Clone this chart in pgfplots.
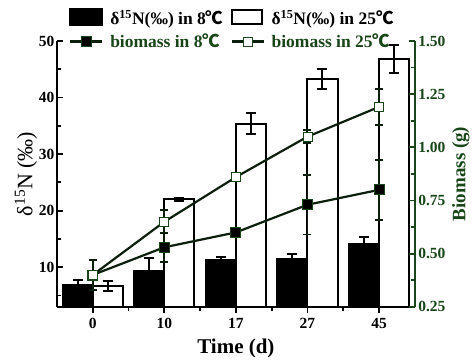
\documentclass[border=0pt]{standalone}
\usepackage{pgfplots}
\pgfplotsset{compat=1.18}
\usepackage{fontspec}
\setmainfont{Liberation Serif}
\newfontfamily\cjk{Noto Sans CJK SC}
\newcommand{\degC}{{\cjk ℃}}
\definecolor{dg}{RGB}{25,70,25}
\definecolor{dl}{RGB}{12,30,12}
\newcommand{\tk}{\fontsize{15.5}{15.5}\selectfont\bfseries}

\pgfplotstableread{
x y e
0 6.9 0.9
1 9.4 2.3
2 11.2 0.6
3 11.5 0.9
4 14.1 1.3
}\blackbars
\pgfplotstableread{
x y e
0 6.7 0.9
1 22.0 0.2
2 35.4 1.9
3 43.3 1.8
4 46.8 2.5
}\whitebars
\pgfplotstableread{
x y e
0 0.40 0.07
1 0.53 0.07
2 0.60 0.02
3 0.73 0.14
4 0.80 0.14
}\bioeight
\pgfplotstableread{
x y e
0 0.40 0.07
1 0.65 0.055
2 0.86 0.02
3 1.05 0.03
4 1.19 0.085
}\biotwentyfive

\begin{document}
\begin{tikzpicture}
\pgfplotsset{
  base/.style={scale only axis, width=358pt, height=266pt, xmin=-0.5, xmax=4.5,
    /pgf/number format/assume math mode=true,
    axis line style={-, line width=2pt}, tick label style={font=\tk},
    major tick length=6pt, minor tick length=4pt,
    every tick/.style={line width=1.8pt}},
}
% left axis with bars
\begin{axis}[base, ymin=3, ymax=50,
  ybar=0pt, bar width=0.42,
  axis x line=none, axis y line*=left, tick align=inside,
  ytick={10,20,30,40,50}, minor ytick={5,15,25,35,45},
  ylabel={δ\textsuperscript{15}N (‰)},
  ylabel style={font=\fontsize{22}{22}\selectfont, yshift=-5pt},
  yticklabel style={xshift=1pt}]
\addplot[fill=black, draw=black, line width=2pt,
  error bars/.cd, y dir=both, y explicit,
  error bar style={line width=2pt, black},
  error mark options={rotate=90, mark size=5pt, line width=2pt, black}]
  table[x=x, y=y, y error=e] {\blackbars};
\addplot[fill=white, draw=black, line width=2pt,
  error bars/.cd, y dir=both, y explicit,
  error bar style={line width=2pt, black},
  error mark options={rotate=90, mark size=5pt, line width=2pt, black}]
  table[x=x, y=y, y error=e] {\whitebars};
\end{axis}
% x axis
\begin{axis}[base, ymin=0, ymax=1,
  axis y line=none, axis x line*=bottom, tick align=outside,
  xtick={0,1,2,3,4}, xticklabels={0,10,17,27,45},
  minor xtick={0.5,1.5,2.5,3.5},
  xticklabel style={yshift=-2pt},
  xlabel={\bfseries Time (d)},
  xlabel style={font=\fontsize{21}{21}\selectfont, yshift=-3pt}]
\coordinate (O) at (rel axis cs:0,0);
\end{axis}
% right axis biomass
\begin{axis}[base, ymin=0.25, ymax=1.5,
  axis x line=none, axis y line*=right, tick align=inside,
  axis line style={dg}, every tick/.style={line width=1.8pt, dg},
  ytick={0.25,0.5,0.75,1.0,1.25,1.5}, minor y tick num=1,
  yticklabel style={text=dg, /pgf/number format/.cd, fixed, fixed zerofill, precision=2},
  ylabel={\bfseries Biomass (g)},
  ylabel style={font=\fontsize{19}{19}\selectfont, text=dg},
  legend columns=2,
  legend cell align=left,
  legend style={at={(0.49,1.125)}, anchor=north, draw=none, fill=none,
    font=\fontsize{17.5}{17.5}\selectfont\bfseries, column sep=5pt, row sep=4pt,
    inner sep=0pt}]
\addlegendimage{legend image code/.code={\draw[fill=black, draw=black, line width=1.5pt] (0pt,-7pt) rectangle (32pt,9pt);}}
\addlegendentry{δ\textsuperscript{15}N(‰) in 8\degC}
\addlegendimage{legend image code/.code={\draw[fill=white, draw=black, line width=2pt] (0pt,-6pt) rectangle (30pt,8pt);}}
\addlegendentry{δ\textsuperscript{15}N(‰) in 25\degC}
\addplot[dl, line width=2.2pt, mark=square*, mark size=5pt,
  mark options={fill=black, draw=dg, line width=0.8pt},
  legend image code/.code={\draw[dl, line width=2.2pt] (0pt,0pt) -- (32pt,0pt);
    \draw[fill=black, draw=dg, line width=0.8pt] (11pt,-5pt) rectangle (21pt,5pt);},
  error bars/.cd, y dir=both, y explicit,
  error bar style={line width=1.8pt, dl},
  error mark options={rotate=90, mark size=4pt, line width=1.8pt, dl}]
  table[x=x, y=y, y error=e] {\bioeight};
\addlegendentry{\textcolor{dg}{biomass in 8\degC}}
\addplot[dl, line width=2.2pt, mark=square*, mark size=4.5pt,
  mark options={fill=white, draw=dg, line width=0.8pt},
  legend image code/.code={\draw[dl, line width=2.2pt] (0pt,0pt) -- (32pt,0pt);
    \draw[fill=white, draw=dg, line width=0.8pt] (11.5pt,-4.5pt) rectangle (20.5pt,4.5pt);},
  error bars/.cd, y dir=both, y explicit,
  error bar style={line width=1.8pt, dl},
  error mark options={rotate=90, mark size=4pt, line width=1.8pt, dl}]
  table[x=x, y=y, y error=e] {\biotwentyfive};
\addlegendentry{\textcolor{dg}{biomass in 25\degC}}
\end{axis}
\path (O) ++(-57pt,-48pt) rectangle ++(473pt,355pt);
\end{tikzpicture}
\end{document}
